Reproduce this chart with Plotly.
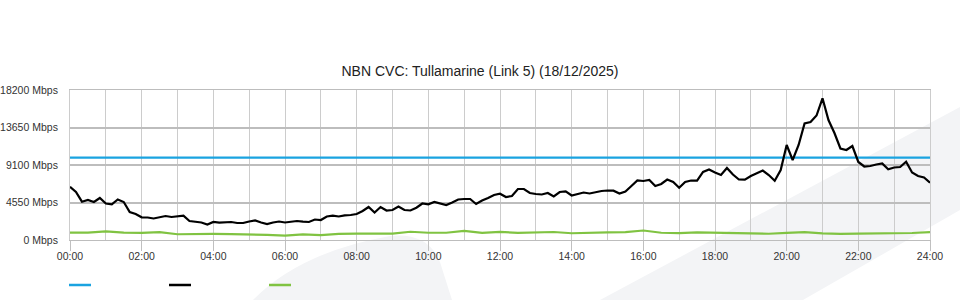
import numpy as np
import plotly.graph_objects as go

# ---- data ----
title_text = "NBN CVC: Tullamarine (Link 5) (18/12/2025)"

# hours of day, 10-minute samples for traffic
traffic_hours = [i / 6 for i in range(145)]
traffic_mbps = [
    6467, 5824, 4647, 4853, 4611, 5096, 4429, 4332, 4914, 4611, 3397, 3155,
    2754, 2730, 2609, 2730, 2912, 2791, 2876, 2948, 2305, 2220, 2123, 1881,
    2184, 2099, 2148, 2184, 2063, 2063, 2245, 2366, 2123, 1941, 2123, 2245,
    2123, 2245, 2305, 2220, 2184, 2487, 2427, 2851, 2948, 2851, 2997, 3033,
    3155, 3519, 4004, 3337, 4004, 3579, 3640, 4065, 3640, 3579, 3919, 4429,
    4332, 4611, 4404, 4247, 4550, 4914, 4975, 4975, 4368, 4793, 5096, 5460,
    5618, 5217, 5339, 6188, 6188, 5703, 5581, 5521, 5703, 5278, 5824, 5909,
    5399, 5581, 5763, 5642, 5824, 5945, 6006, 5982, 5642, 5885, 6552, 7219,
    7159, 7280, 6552, 6795, 7341, 7037, 6346, 7037, 7219, 7195, 8251, 8554,
    8190, 7887, 8736, 7947, 7341, 7316, 7765, 8069, 8433, 7887, 7195, 8493,
    11527, 9707, 11527, 14135, 14317, 15106, 17193, 14560, 12983, 11102, 10920, 11405,
    9464, 8918, 8979, 9161, 9282, 8578, 8797, 8857, 9500, 8190, 7765, 7583,
    6952,
]

# 30-minute samples for the lower (green) series
low_hours = [i / 2 for i in range(49)]
low_mbps = [
    886, 886, 1050, 900, 860, 950, 700, 760, 740, 720, 700, 620,
    540, 690, 580, 740, 770, 770, 780, 1000, 880, 880, 1100, 860,
    980, 860, 950, 970, 820, 900, 930, 960, 1150, 880, 840, 930,
    900, 800, 800, 760, 860, 960, 800, 740, 780, 800, 780, 850,
    960,
]

capacity_mbps = 10000
capacity_hours = [0, 24]

y_tick_step = 4550
y_max = 18200

colors = {"capacity": "#1aa3e0", "traffic": "#000000", "low": "#80c342"}

# ---- figure ----
fig = go.Figure()
fig.add_trace(go.Scatter(x=capacity_hours, y=[capacity_mbps] * len(capacity_hours),
                         mode="lines", line=dict(color=colors["capacity"], width=2.2),
                         hoverinfo="skip", showlegend=False))
fig.add_trace(go.Scatter(x=low_hours, y=low_mbps, mode="lines",
                         line=dict(color=colors["low"], width=2.2), showlegend=False))
fig.add_trace(go.Scatter(x=traffic_hours, y=traffic_mbps, mode="lines",
                         line=dict(color=colors["traffic"], width=2.2), showlegend=False))

def px_to_paper(px, py):
    return (px - 70) / 860, (240 - py) / 150

shapes = []
# faint background watermark
band = [px_to_paper(600, 300), px_to_paper(960, 107), px_to_paper(960, 210), px_to_paper(803, 300)]
shapes.append(dict(type="path", xref="paper", yref="paper", layer="below",
                   path="M " + " L ".join(f"{a:.4f},{b:.4f}" for a, b in band) + " Z",
                   fillcolor="#f3f4f6", line=dict(width=0)))
p0 = px_to_paper(253, 300); c1 = px_to_paper(300, 252); p1 = px_to_paper(390, 236)
c2 = px_to_paper(428, 232); p2 = px_to_paper(440, 262); p3 = px_to_paper(452, 300)
shapes.append(dict(type="path", xref="paper", yref="paper", layer="below",
                   path=(f"M {p0[0]:.4f},{p0[1]:.4f} Q {c1[0]:.4f},{c1[1]:.4f} {p1[0]:.4f},{p1[1]:.4f} "
                         f"Q {c2[0]:.4f},{c2[1]:.4f} {p2[0]:.4f},{p2[1]:.4f} L {p3[0]:.4f},{p3[1]:.4f} Z"),
                   fillcolor="#f3f4f6", line=dict(width=0)))
# legend swatches (no labels)
for i, key in enumerate(["capacity", "traffic", "low"]):
    xa, ya = px_to_paper(69 + 100 * i, 285)
    xb, _ = px_to_paper(91 + 100 * i, 285)
    shapes.append(dict(type="line", xref="paper", yref="paper", x0=xa, x1=xb, y0=ya, y1=ya,
                       line=dict(color=colors[key], width=2.5)))

fig.update_layout(
    width=960, height=300,
    margin=dict(l=70, r=30, t=90, b=60, autoexpand=False),
    paper_bgcolor="white", plot_bgcolor="rgba(0,0,0,0)",
    font=dict(family="Liberation Sans, Arial, sans-serif", size=10.5, color="#333333"),
    title=dict(text=title_text, x=0.5, xref="container", xanchor="center",
               y=1 - 71 / 300, yref="container", yanchor="middle",
               font=dict(size=14, color="#222222")),
    shapes=shapes,
    showlegend=False,
)

fig.update_xaxes(range=[0, 24], tickmode="linear", tick0=0, dtick=2,
                 tickformat="02d", ticksuffix=":00",
                 showgrid=True, gridcolor="#cccccc", gridwidth=1,
                 minor=dict(tickmode="linear", tick0=0, dtick=1, showgrid=True,
                            gridcolor="#cccccc", gridwidth=1, ticklen=0),
                 ticks="outside", ticklen=10, tickcolor="#c0c0c0", tickwidth=1,
                 ticklabelstandoff=-4,
                 showline=True, linecolor="#bdbdbd", linewidth=1, mirror=True,
                 zeroline=False, fixedrange=True, automargin=False)
fig.update_yaxes(range=[0, y_max], tickmode="linear", tick0=0, dtick=y_tick_step,
                 tickformat="d", ticksuffix=" Mbps", showgrid=True, gridcolor="#bdbdbd", gridwidth=1.5,
                 ticks="", ticklabelstandoff=9,
                 showline=True, linecolor="#cccccc", linewidth=1, mirror=True,
                 zeroline=False, fixedrange=True, automargin=False)

fig.write_html("out.html")
